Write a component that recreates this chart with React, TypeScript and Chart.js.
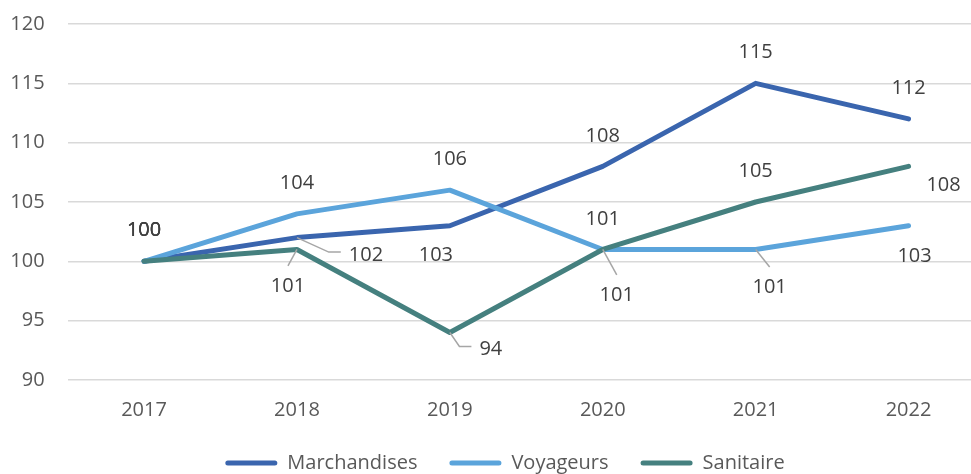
import React, { useEffect, useRef } from 'react';
import { Chart, registerables } from 'chart.js';

Chart.register(...registerables);

// ---- data ----
const categories = ['2017', '2018', '2019', '2020', '2021', '2022'];
const seriesNames = ['Marchandises', 'Voyageurs', 'Sanitaire'];
const marchandises = [100, 102, 103, 108, 115, 112];
const voyageurs = [100, 104, 106, 101, 101, 103];
const sanitaire = [100, 101, 94, 101, 105, 108];
const yMin = 90;
const yMax = 120;
const yStep = 5;

// ---- styling ----
const FONT = '"Open Sans", sans-serif';
const colors = ['#3A65AE', '#5BA4DB', '#45807F'];

// data-label placement (pixel offsets from each point, and leader style)
type Place = [number, number, string];
const placements: Place[][] = [
  [[0, -32, ''], [69, 16, 'elbow'], [-14, 28, ''], [0, -32, ''], [0, -32, ''], [0, -32, '']],
  [[0, -32, ''], [0, -32, ''], [0, -32, ''], [14, 44.5, 'line'], [14, 36.5, 'line'], [6, 29, '']],
  [[0, -32, ''], [-9, 35.5, 'line'], [41, 15.5, 'elbow'], [0, -32, ''], [0, -32, ''], [35, 17.6, '']],
];

const dataLabelPlugin = {
  id: 'dataLabels',
  afterLayout(chart: any) {
    // centre the legend slightly right of the canvas centre, as in the reference
    if (chart.legend) {
      chart.legend.left += 12.5;
      chart.legend.right += 12.5;
    }
  },
  afterDatasetsDraw(chart: any) {
    const ctx = chart.ctx as CanvasRenderingContext2D;
    ctx.save();
    ctx.font = `20px ${FONT}`;
    ctx.textAlign = 'center';
    ctx.textBaseline = 'alphabetic';
    chart.data.datasets.forEach((ds: any, di: number) => {
      const meta = chart.getDatasetMeta(di);
      const place = placements[di];
      meta.data.forEach((pt: any, i: number) => {
        const [dx, dy, leader] = place[i];
        const lx = pt.x + dx;
        const ly = pt.y + dy;
        const text = String(ds.data[i]);
        const w = ctx.measureText(text).width;
        if (leader) {
          ctx.strokeStyle = '#A6A6A6';
          ctx.lineWidth = 1.5;
          ctx.beginPath();
          ctx.moveTo(pt.x, pt.y);
          if (leader === 'elbow') {
            const left = lx - w / 2;
            ctx.lineTo(left - 20, ly - 1.5);
            ctx.lineTo(left - 8, ly - 1.5);
          } else {
            ctx.lineTo(lx, ly - 19);
          }
          ctx.stroke();
        }
        ctx.fillStyle = '#404040';
        ctx.fillText(text, lx, ly + 7.1);
      });
    });
    ctx.restore();
  },
};

export default function App() {
  const canvasRef = useRef<HTMLCanvasElement | null>(null);

  useEffect(() => {
    if (!canvasRef.current) return;
    const values = [marchandises, voyageurs, sanitaire];
    const chart = new Chart(canvasRef.current, {
      type: 'line',
      data: {
        labels: categories,
        datasets: seriesNames.map((name, i) => ({
          label: name,
          data: values[i],
          borderColor: colors[i],
          backgroundColor: colors[i],
          borderWidth: 5,
          borderCapStyle: 'round',
          borderJoinStyle: 'round',
          pointRadius: 0,
          pointHoverRadius: 0,
          fill: false,
          tension: 0,
          order: 2 - i,
        })),
      },
      options: {
        animation: false,
        responsive: true,
        maintainAspectRatio: false,
        events: [],
        layout: { padding: { left: 0, top: 24, right: 0, bottom: 0 } },
        scales: {
          x: {
            offset: true,
            grid: { display: false, drawTicks: false },
            border: { display: false },
            ticks: { color: '#595959', font: { family: FONT, size: 20 }, padding: 18.5, maxRotation: 0 },
            afterFit: (s: any) => { s.height = 41; },
          },
          y: {
            min: yMin,
            max: yMax,
            grid: { color: '#D9D9D9', lineWidth: 1.5, drawTicks: false },
            border: { display: false },
            ticks: { stepSize: yStep, color: '#595959', font: { family: FONT, size: 20 }, padding: 23 },
            afterFit: (s: any) => {
              s.width = 67.6;
              s.paddingTop = 0;
              s.paddingBottom = 0;
            },
          },
        },
        plugins: {
          legend: {
            position: 'bottom',
            labels: {
              color: '#595959',
              font: { family: FONT, size: 20 },
              boxWidth: 52,
              boxHeight: 5,
              padding: 32,
              useBorderRadius: true,
              borderRadius: 2.5,
              sort: (a: any, b: any) => a.datasetIndex - b.datasetIndex,
              generateLabels: (c: any) =>
                (Chart.defaults.plugins.legend.labels.generateLabels as any)(c).map((l: any) => ({
                  ...l,
                  lineWidth: 0,
                  fillStyle: colors[l.datasetIndex],
                })),
            },
          },
          tooltip: { enabled: false },
        },
      } as any,
      plugins: [dataLabelPlugin],
    });
    return () => chart.destroy();
  }, []);

  return (
    <div style={{ position: 'fixed', left: 0, top: 0, width: 971, height: 474, overflow: 'hidden', background: '#fff' }}>
      <div style={{ position: 'relative', width: 985, height: 483 }}>
        <canvas ref={canvasRef} />
      </div>
    </div>
  );
}
